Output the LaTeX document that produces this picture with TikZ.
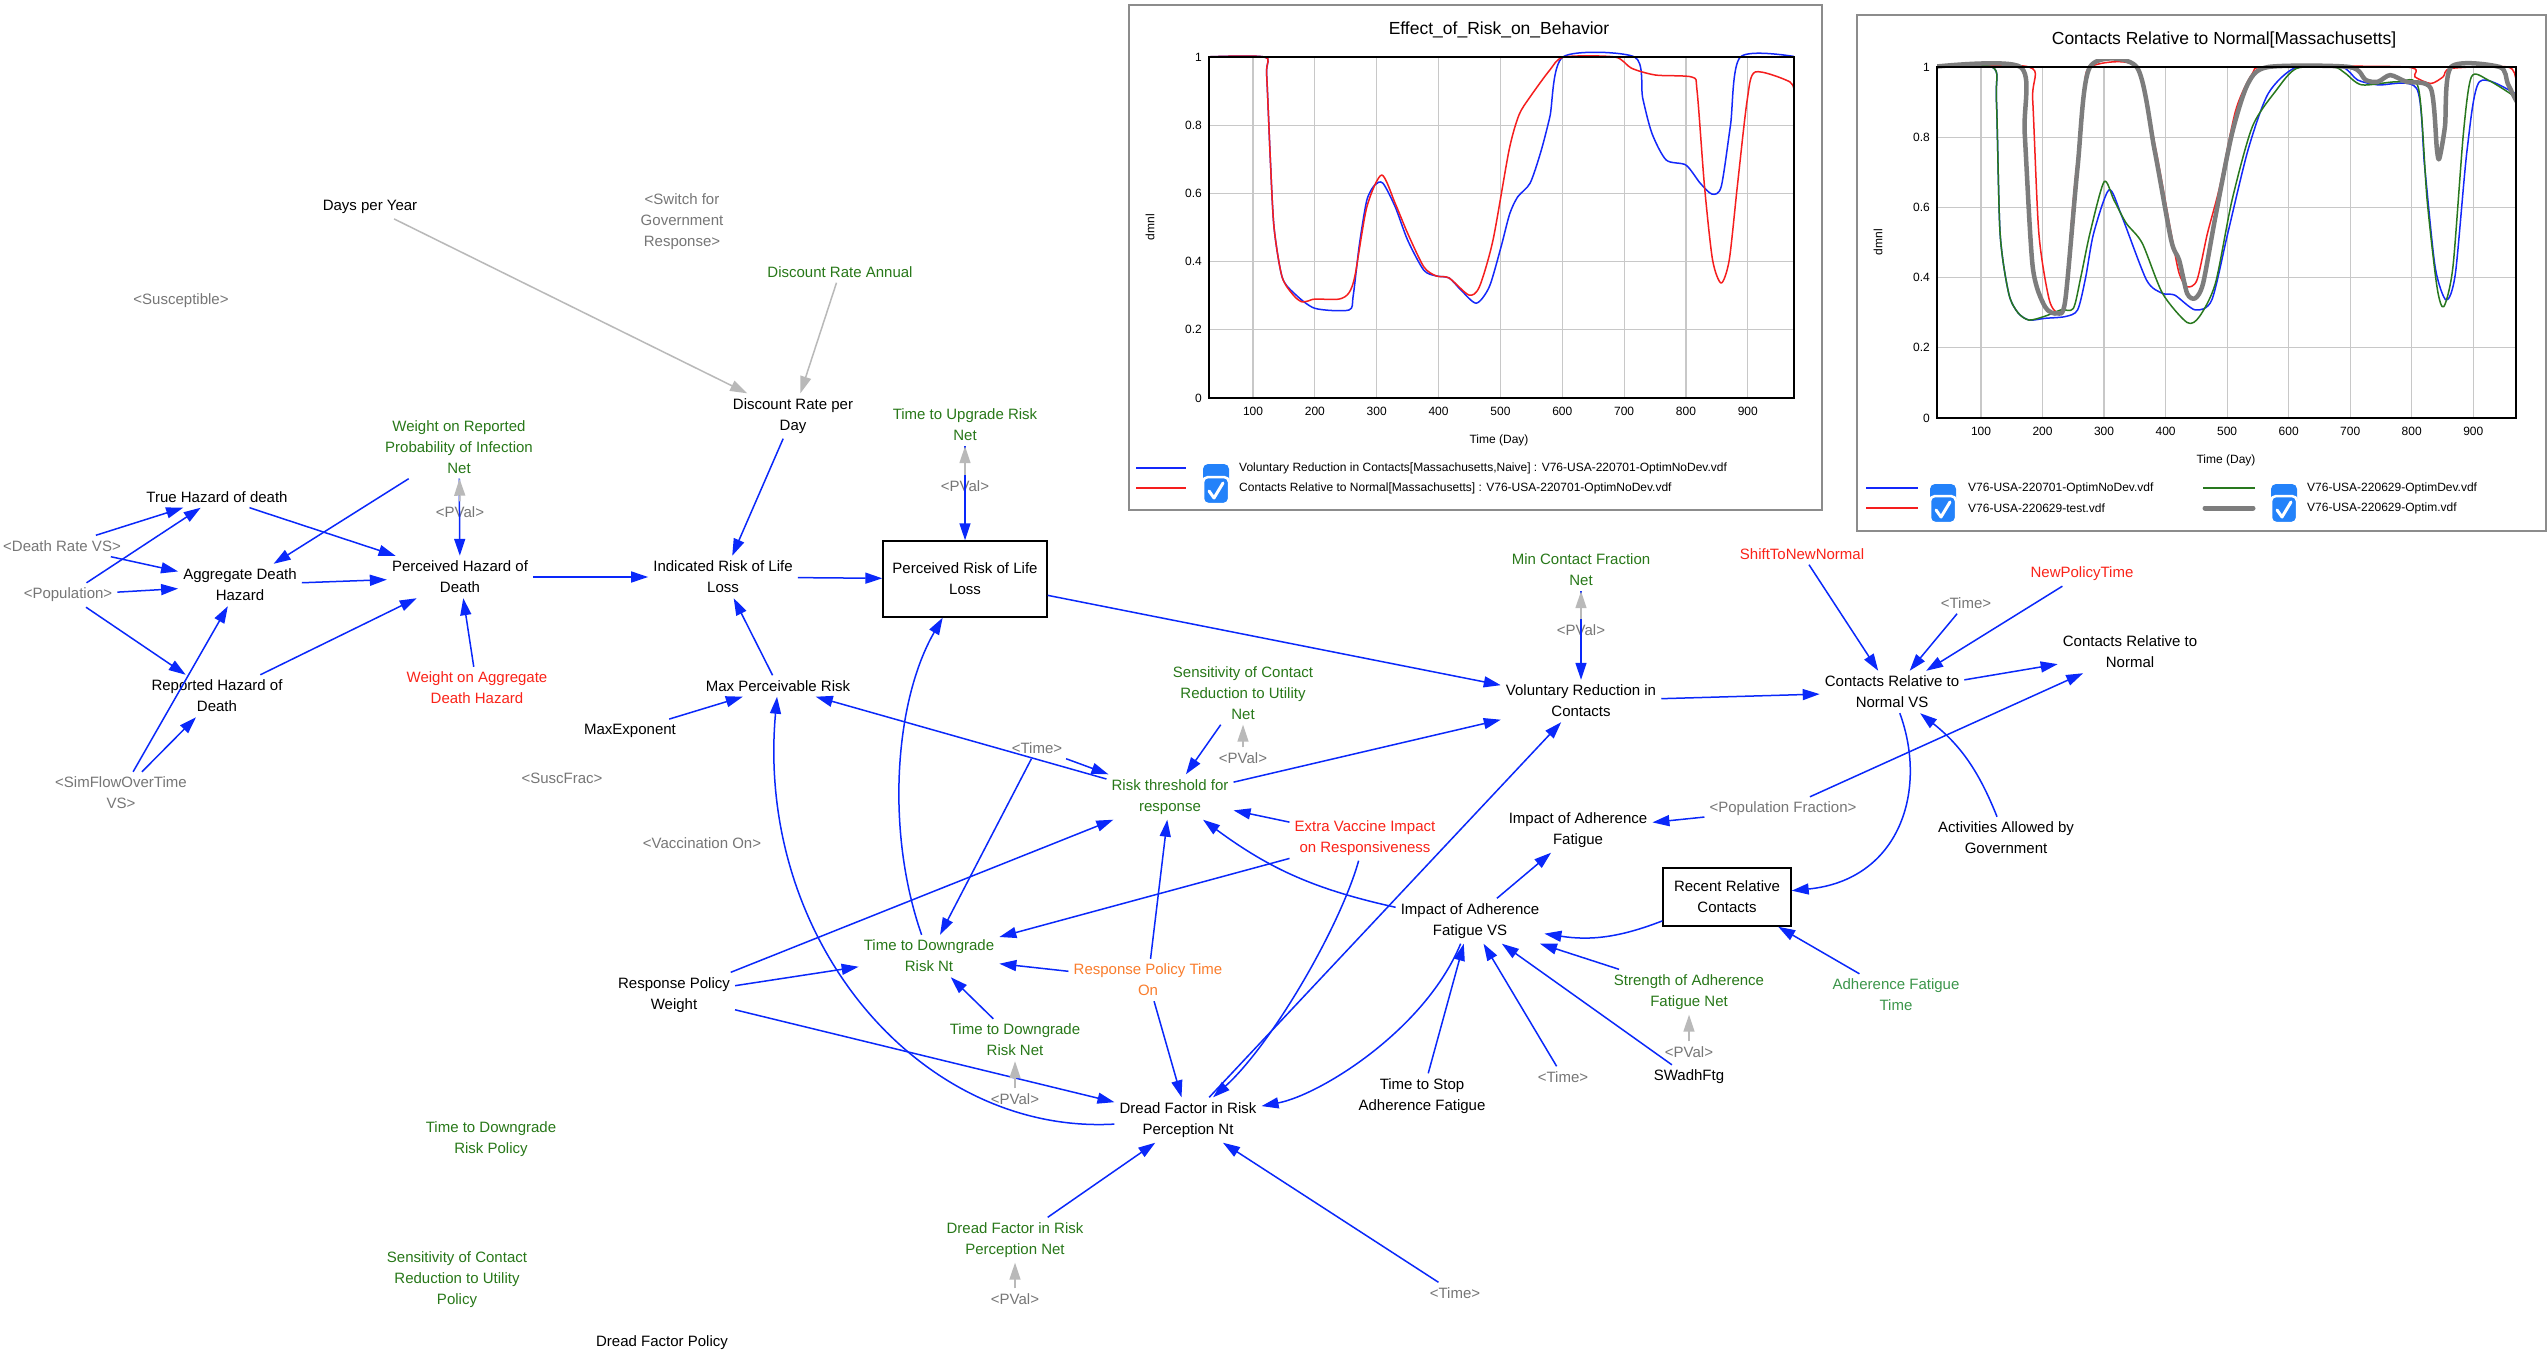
\documentclass[tikz,border=0pt]{standalone}
\usepackage{fontspec}
\setmainfont{Liberation Sans}
\usetikzlibrary{arrows.meta}
\definecolor{linkblue}{RGB}{10,40,250}
\definecolor{cgreen}{RGB}{40,120,25}
\definecolor{cred2}{RGB}{250,35,25}
\definecolor{corange}{RGB}{250,125,45}
\definecolor{cgraytxt}{RGB}{118,118,118}
\definecolor{clightgreen}{RGB}{60,150,75}
\definecolor{garrow}{RGB}{185,185,185}
\definecolor{gridgray}{RGB}{200,200,200}
\definecolor{framegray}{RGB}{140,140,140}
\definecolor{cblue}{RGB}{20,40,250}
\definecolor{cred}{RGB}{245,30,30}
\definecolor{cgreenline}{RGB}{40,120,30}
\definecolor{cgrayline}{RGB}{125,125,125}
\definecolor{cbblue}{RGB}{35,130,250}
\newcommand\fsv{\fontsize{15}{21}\selectfont}
\newcommand\fsc{\fontsize{12}{14}\selectfont}
\newcommand\fst{\fontsize{17.5}{20}\selectfont}
\newcommand\chkbox[3]{%
 \fill[cbblue, rounded corners=5pt] (#1-13,#2) rectangle (#1+13,#2+26);
 \filldraw[fill=cbblue, draw=white, line width=2.5pt, rounded corners=5pt] (#1-13,#3) rectangle (#1+13,#3+27);
 \draw[white, line width=3pt, line cap=round, line join=round] (#1-7,#3+14) -- (#1-2,#3+21) -- (#1+7,#3+6);
}
\tikzset{
 var/.style={font=\fsv, align=center, inner sep=5pt, text=black},
 vgreen/.style={var, text=cgreen},
 vred/.style={var, text=cred2},
 vorange/.style={var, text=corange},
 vshadow/.style={var, text=cgraytxt},
 vlight/.style={var, text=clightgreen},
 vbox/.style={var, draw=black, line width=1.4pt},
 lnk/.style={draw=linkblue, line width=1.5pt, -{Triangle[length=17pt,width=11pt]}},
 glnk/.style={draw=garrow, line width=1.5pt, -{Triangle[length=17pt,width=11pt]}},
 chtxt/.style={font=\fsc, inner sep=0pt},
 gridl/.style={draw=gridgray, line width=1.2pt},
 chframe/.style={fill=white, draw=framegray, line width=2.5pt},
}
\begin{document}
\begin{tikzpicture}[x=1pt,y=-1pt]
\useasboundingbox (0,0) rectangle (2548,1364);
\fill[white] (0,0) rectangle (2548,1364);

%================ CHART 1 =================
\filldraw[chframe] (1129,5) rectangle (1822,510);
\node[font=\fst, inner sep=0pt] (t1) at (1499,30) {Effect\_of\_Risk\_on\_Behavior};
\begin{scope}[shift={(1191.15,398)}, x=0.6185pt, y=341pt]
 \foreach \xx in {100,200,...,900} \draw[gridl] (\xx,0) -- (\xx,1);
 \foreach \vv in {0.2,0.4,0.6,0.8} \draw[gridl] (28.8,\vv) -- (974.4,\vv);
 \foreach \xx in {100,200,...,900} \node[chtxt, anchor=north, yshift=-9pt] at (\xx,0) {\xx};
 \foreach \vv in {0,0.2,0.4,0.6,0.8,1} \node[chtxt, anchor=east, xshift=-7pt] at (28.8,\vv) {\vv};
 \begin{scope}
 \clip (28.8,-0.02) rectangle (974.4,1.02);
 \draw[cblue, line width=1.5pt, line join=round] plot[smooth, tension=0.45] coordinates {
 (20,1) (118,1) (122,0.95) (128,0.7) (134,0.5) (147,0.355) (166,0.308) (200,0.263) (255,0.258) (262,0.3) (272,0.45) (284,0.58) (297,0.625) (310,0.63) (330,0.56) (350,0.463) (376,0.375) (396,0.358) (417,0.352) (436,0.317) (461,0.278) (482,0.326) (501,0.443) (515,0.54) (528,0.59) (548,0.63) (565,0.72) (580,0.825) (601,1) (717,1) (730,0.88) (745,0.776) (768,0.698) (800,0.683) (823,0.63) (842,0.598) (857,0.62) (872,0.8) (888,1) (980,1)};
 \draw[cred, line width=1.5pt, line join=round] plot[smooth, tension=0.45] coordinates {
 (20,1) (118,1) (122,0.95) (128,0.7) (134,0.5) (147,0.355) (166,0.3) (179,0.282) (190,0.285) (200,0.29) (239,0.29) (255,0.308) (265,0.36) (284,0.56) (308,0.654) (330,0.57) (350,0.483) (376,0.385) (396,0.358) (417,0.352) (449,0.302) (466,0.326) (488,0.463) (514,0.727) (530,0.83) (548,0.883) (580,0.962) (603,1) (685,1) (712,0.967) (751,0.947) (810,0.941) (818,0.9) (830,0.62) (843,0.405) (857,0.337) (870,0.405) (883,0.62) (899,0.874) (912,0.956) (968,0.927) (976,0.89)};
 \end{scope}
 \draw[black, line width=2.5pt] (28.8,0) rectangle (974.4,1);
\end{scope}
\node[chtxt] (x1) at (1499,440) {Time (Day)};
\node[chtxt, rotate=90] (d1) at (1150,227) {dmnl};
\draw[cblue, line width=2.5pt] (1136,468) -- (1186,468);
\draw[cred, line width=2.5pt] (1136,488) -- (1186,488);
\chkbox{1216}{464}{477}
\node[chtxt, anchor=west] (l11) at (1239,468) {Voluntary Reduction in Contacts[Massachusetts,Naive] : V76-USA-220701-OptimNoDev.vdf};
\node[chtxt, anchor=west] (l12) at (1239,488) {Contacts Relative to Normal[Massachusetts] : V76-USA-220701-OptimNoDev.vdf};

%================ CHART 2 =================
\filldraw[chframe] (1857,15) rectangle (2546,531);
\node[font=\fst, inner sep=0pt] (t2) at (2224,40) {Contacts Relative to Normal[Massachusetts]};
\begin{scope}[shift={(1919.47,418)}, x=0.6153pt, y=351pt]
 \foreach \xx in {100,200,...,900} \draw[gridl] (\xx,0) -- (\xx,1);
 \foreach \vv in {0.2,0.4,0.6,0.8} \draw[gridl] (28.5,\vv) -- (969.5,\vv);
 \foreach \xx in {100,200,...,900} \node[chtxt, anchor=north, yshift=-9pt] at (\xx,0) {\xx};
 \foreach \vv in {0,0.2,0.4,0.6,0.8,1} \node[chtxt, anchor=east, xshift=-7pt] at (28.5,\vv) {\vv};
 \begin{scope}
 \clip (28.5,-0.02) rectangle (969.5,1.02);
 \draw[cblue, line width=1.5pt, line join=round] plot[smooth, tension=0.45] coordinates {
 (20,1) (118,1) (125,0.906) (131,0.526) (145,0.355) (160,0.3) (178,0.279) (204,0.284) (237,0.289) (257,0.308) (270,0.4) (283,0.526) (308,0.65) (329,0.574) (369,0.393) (395,0.355) (415,0.35) (448,0.308) (475,0.336) (501,0.526) (534,0.764) (567,0.925) (613,1) (686,1) (712,0.963) (745,0.949) (808,0.939) (821,0.716) (838,0.431) (856,0.336) (871,0.412) (890,0.764) (910,0.958) (968,0.925) (975,0.91)};
 \draw[cred, line width=1.5pt, line join=round] plot[smooth, tension=0.45] coordinates {
 (20,1) (178,1) (184,0.906) (194,0.526) (211,0.336) (227,0.298) (237,0.336) (250,0.621) (267,0.906) (277,1) (353,1) (382,0.783) (409,0.526) (422,0.412) (435,0.374) (451,0.393) (468,0.526) (488,0.659) (514,0.877) (541,0.981) (567,1) (791,1) (805,0.972) (831,0.953) (851,0.972) (864,0.996) (956,1) (970,0.963) (976,0.94)};
 \draw[cgreenline, line width=1.5pt, line join=round] plot[smooth, tension=0.45] coordinates {
 (20,1) (118,1) (125,0.906) (131,0.526) (145,0.355) (160,0.3) (178,0.279) (204,0.29) (230,0.308) (250,0.312) (262,0.4) (277,0.526) (300,0.673) (316,0.621) (336,0.555) (362,0.498) (395,0.355) (435,0.272) (455,0.289) (481,0.384) (508,0.621) (541,0.83) (580,0.934) (613,0.996) (673,1) (692,0.982) (719,0.949) (778,0.958) (811,0.939) (825,0.621) (841,0.374) (852,0.317) (867,0.431) (884,0.811) (897,0.972) (924,0.963) (968,0.915) (975,0.9)};
 \draw[cgrayline, line width=4.5pt, line join=round] plot[smooth, tension=0.45] coordinates {
 (20,1) (164,1) (171,0.811) (184,0.431) (204,0.317) (224,0.298) (237,0.336) (257,0.716) (277,1) (353,1) (382,0.764) (409,0.507) (422,0.45) (435,0.355) (448,0.341) (461,0.384) (481,0.574) (508,0.811) (534,0.953) (567,1) (699,1) (725,0.963) (745,0.958) (765,0.977) (791,0.958) (831,0.939) (841,0.764) (845,0.74) (854,0.83) (864,1) (943,1) (956,0.953) (968,0.91) (975,0.89)};
 \end{scope}
 \draw[black, line width=2.5pt] (28.5,0) rectangle (969.5,1);
\end{scope}
\node[chtxt] (x2) at (2226,460) {Time (Day)};
\node[chtxt, rotate=90] (d2) at (1878,242) {dmnl};
\draw[cblue, line width=2.5pt] (1866,488) -- (1918,488);
\draw[cred, line width=2.5pt] (1866,508) -- (1918,508);
\draw[cgreenline, line width=2.5pt] (2203,488) -- (2255,488);
\draw[cgrayline, line width=5pt, line cap=round] (2205,508) -- (2253,508);
\chkbox{1943}{484}{496}
\chkbox{2284}{484}{496}
\node[chtxt, anchor=west] (l21) at (1968,488) {V76-USA-220701-OptimNoDev.vdf};
\node[chtxt, anchor=west] (l22) at (1968,508) {V76-USA-220629-test.vdf};
\node[chtxt, anchor=west] (l23) at (2307,488) {V76-USA-220629-OptimDev.vdf};
\node[chtxt, anchor=west] (l24) at (2307,508) {V76-USA-220629-Optim.vdf};

%================ VARIABLES =================
\node[var] (dpy) at (370,207) {Days per Year};
\node[vshadow] (susc) at (181,301) {<Susceptible>};
\node[vgreen] (wrpi) at (459,447) {Weight on Reported\\Probability of Infection\\Net};
\node[vshadow] (sgr) at (682,222) {<Switch for\\Government\\Response>};
\node[vgreen] (dra) at (840,272) {Discount Rate Annual};
\node[var] (drpd) at (793,416) {Discount Rate per\\Day};
\node[vgreen] (tur) at (965,425) {Time to Upgrade Risk\\Net};
\node[var] (thd) at (217,497) {True Hazard of death};
\node[vshadow] (drvs) at (62,546) {<Death Rate VS>};
\node[vshadow] (pop) at (68,595) {<Population>};
\node[var] (adh) at (240,585) {Aggregate Death\\Hazard};
\node[var] (rhd) at (217,696) {Reported Hazard of\\Death};
\node[vshadow] (sfot) at (121,793) {<SimFlowOverTime\\VS>};
\node[var] (phd) at (460,577) {Perceived Hazard of\\Death};
\node[vshadow] (pv1) at (460,512) {<PVal>};
\node[vred] (wadh) at (477,688) {Weight on Aggregate\\Death Hazard};
\node[vshadow] (susf) at (562,778) {<SuscFrac>};
\node[var] (maxe) at (630,731) {MaxExponent};
\node[var] (irll) at (723,577) {Indicated Risk of Life\\Loss};
\node[vbox, minimum width=164, minimum height=76] (prll) at (965,579) {Perceived Risk of Life\\Loss};
\node[vshadow] (pv2) at (965,486) {<PVal>};
\node[var] (mpr) at (778,686) {Max Perceivable Risk};
\node[vshadow] (vacc) at (702,843) {<Vaccination On>};
\node[vshadow] (time1) at (1037,748) {<Time>};
\node[vgreen] (scrn) at (1243,693) {Sensitivity of Contact\\Reduction to Utility\\Net};
\node[vshadow] (pv3) at (1243,758) {<PVal>};
\node[vgreen] (rt) at (1170,797) {Risk threshold for\\response};
\node[vgreen] (mcfn) at (1581,570) {Min Contact Fraction\\Net};
\node[vshadow] (pv4) at (1581,630) {<PVal>};
\node[var] (vrc) at (1581,701) {Voluntary Reduction in\\Contacts};
\node[vred] (stnn) at (1802,554) {ShiftToNewNormal};
\node[vred] (npt) at (2082,574) {NewPolicyTime};
\node[vshadow] (time2) at (1966,603) {<Time>};
\node[var] (crnvs) at (1892,692) {Contacts Relative to\\Normal VS};
\node[var] (crn) at (2130,652) {Contacts Relative to\\Normal};
\node[var] (iaf) at (1578,830) {Impact of Adherence\\Fatigue};
\node[vshadow] (popf) at (1783,809) {<Population Fraction>};
\node[var] (aag) at (2006,838) {Activities Allowed by\\Government};
\node[vred] (evi) at (1365,838) {Extra Vaccine Impact\\on Responsiveness};
\node[vbox, minimum width=128, minimum height=58] (rrc) at (1727,897) {Recent Relative\\Contacts};
\node[var] (iafvs) at (1470,921) {Impact of Adherence\\Fatigue VS};
\node[vgreen] (ttdrnt) at (929,956) {Time to Downgrade\\Risk Nt};
\node[var] (rpw) at (674,995) {Response Policy\\Weight};
\node[vorange] (rpto) at (1148,980) {Response Policy Time\\On};
\node[vgreen] (ttdrnet) at (1015,1040) {Time to Downgrade\\Risk Net};
\node[vshadow] (pv5) at (1015,1099) {<PVal>};
\node[vgreen] (sanf) at (1689,992) {Strength of Adherence\\Fatigue Net};
\node[vshadow] (pv6) at (1689,1052) {<PVal>};
\node[vlight] (aft) at (1896,995) {Adherence Fatigue\\Time};
\node[var] (ttsaf) at (1422,1096) {Time to Stop\\Adherence Fatigue};
\node[vshadow] (time3) at (1563,1077) {<Time>};
\node[var] (swad) at (1689,1077) {SWadhFtg};
\node[var] (df) at (1188,1120) {Dread Factor in Risk\\Perception Nt};
\node[vgreen] (ttdrp) at (491,1139) {Time to Downgrade\\Risk Policy};
\node[vgreen] (dfnet) at (1015,1240) {Dread Factor in Risk\\Perception Net};
\node[vshadow] (pv7) at (1015,1299) {<PVal>};
\node[vshadow] (time4) at (1455,1293) {<Time>};
\node[vgreen] (scrp) at (457,1280) {Sensitivity of Contact\\Reduction to Utility\\Policy};
\node[var] (dfp) at (662,1343) {Dread Factor Policy};

%================ LINKS =================
\draw[glnk] (dpy) -- (drpd);
\draw[glnk] (dra) -- (drpd);
% left cluster
\draw[lnk] (drvs) -- (thd);
\draw[lnk] (pop) -- (thd);
\draw[lnk] (drvs) -- (adh);
\draw[lnk] (pop) -- (adh);
\draw[lnk] (pop) -- (rhd);
\draw[lnk] (sfot) -- (adh);
\draw[lnk] (sfot) -- (rhd);
\draw[lnk] (thd) -- (phd);
\draw[lnk] (adh) -- (phd);
\draw[lnk] (rhd) -- (phd);
\draw[lnk] (wrpi) -- (adh);
\draw[lnk] (wrpi) -- (phd);
\draw[lnk] (wadh) -- (phd);
% risk of life loss
\draw[lnk] (phd) -- (irll);
\draw[lnk] (drpd) -- (irll);
\draw[lnk] (irll) -- (prll);
\draw[lnk] (tur) -- (prll);
\draw[lnk] (mpr) -- (irll);
\draw[lnk] (maxe) -- (mpr);
\draw[lnk] (rt) -- (mpr);
% voluntary reduction
\draw[lnk] (prll) -- (vrc);
\draw[lnk] (rt) -- (vrc);
\draw[lnk] (df) -- (vrc);
\draw[lnk] (mcfn) -- (vrc);
\draw[lnk] (vrc) -- (crnvs);
\draw[lnk] (stnn) -- (crnvs);
\draw[lnk] (time2) -- (crnvs);
\draw[lnk] (npt) -- (crnvs);
\draw[lnk] (aag) to[bend right=15] (crnvs);
\draw[lnk] (crnvs) -- (crn);
\draw[lnk] (popf) -- (crn);
\draw[lnk] (popf) -- (iaf);
\draw[lnk] (crnvs) .. controls (1928,790) and (1900,880) .. (rrc);
% adherence fatigue
\draw[lnk] (rrc) to[bend left=15] (iafvs);
\draw[lnk] (aft) -- (rrc);
\draw[lnk] (iafvs) -- (iaf);
\draw[lnk] (sanf) -- (iafvs);
\draw[lnk] (swad) -- (iafvs);
\draw[lnk] (time3) -- (iafvs);
\draw[lnk] (ttsaf) -- (iafvs);
\draw[lnk] (iafvs) .. controls (1425,1030) and (1320,1095) .. (df);
\draw[lnk] (iafvs) to[bend left=12] (rt);
% risk threshold
\draw[lnk] (time1) -- (rt);
\draw[lnk] (time1) -- (ttdrnt);
\draw[lnk] (scrn) -- (rt);
\draw[lnk] (rpw) -- (rt);
\draw[lnk] (rpw) -- (ttdrnt);
\draw[lnk] (rpw) -- (df);
\draw[lnk] (rpto) -- (rt);
\draw[lnk] (rpto) -- (ttdrnt);
\draw[lnk] (rpto) -- (df);
\draw[lnk] (evi) -- (rt);
\draw[lnk] (evi) -- (ttdrnt);
\draw[lnk] (evi) .. controls (1340,927) and (1272,1044) .. (df);
\draw[lnk] (ttdrnet) -- (ttdrnt);
\draw[lnk] (ttdrnt) .. controls (885,830) and (895,700) .. (prll);
\draw[lnk] (df) .. controls (920,1135) and (755,940) .. (mpr);
\draw[lnk] (dfnet) -- (df);
\draw[lnk] (time4) -- (df);
% PVal shadow links
\draw[glnk] (pv1) -- (wrpi);
\draw[glnk] (pv2) -- (tur);
\draw[glnk] (pv3) -- (scrn);
\draw[glnk] (pv4) -- (mcfn);
\draw[glnk] (pv5) -- (ttdrnet);
\draw[glnk] (pv6) -- (sanf);
\draw[glnk] (pv7) -- (dfnet);
\end{tikzpicture}
\end{document}
